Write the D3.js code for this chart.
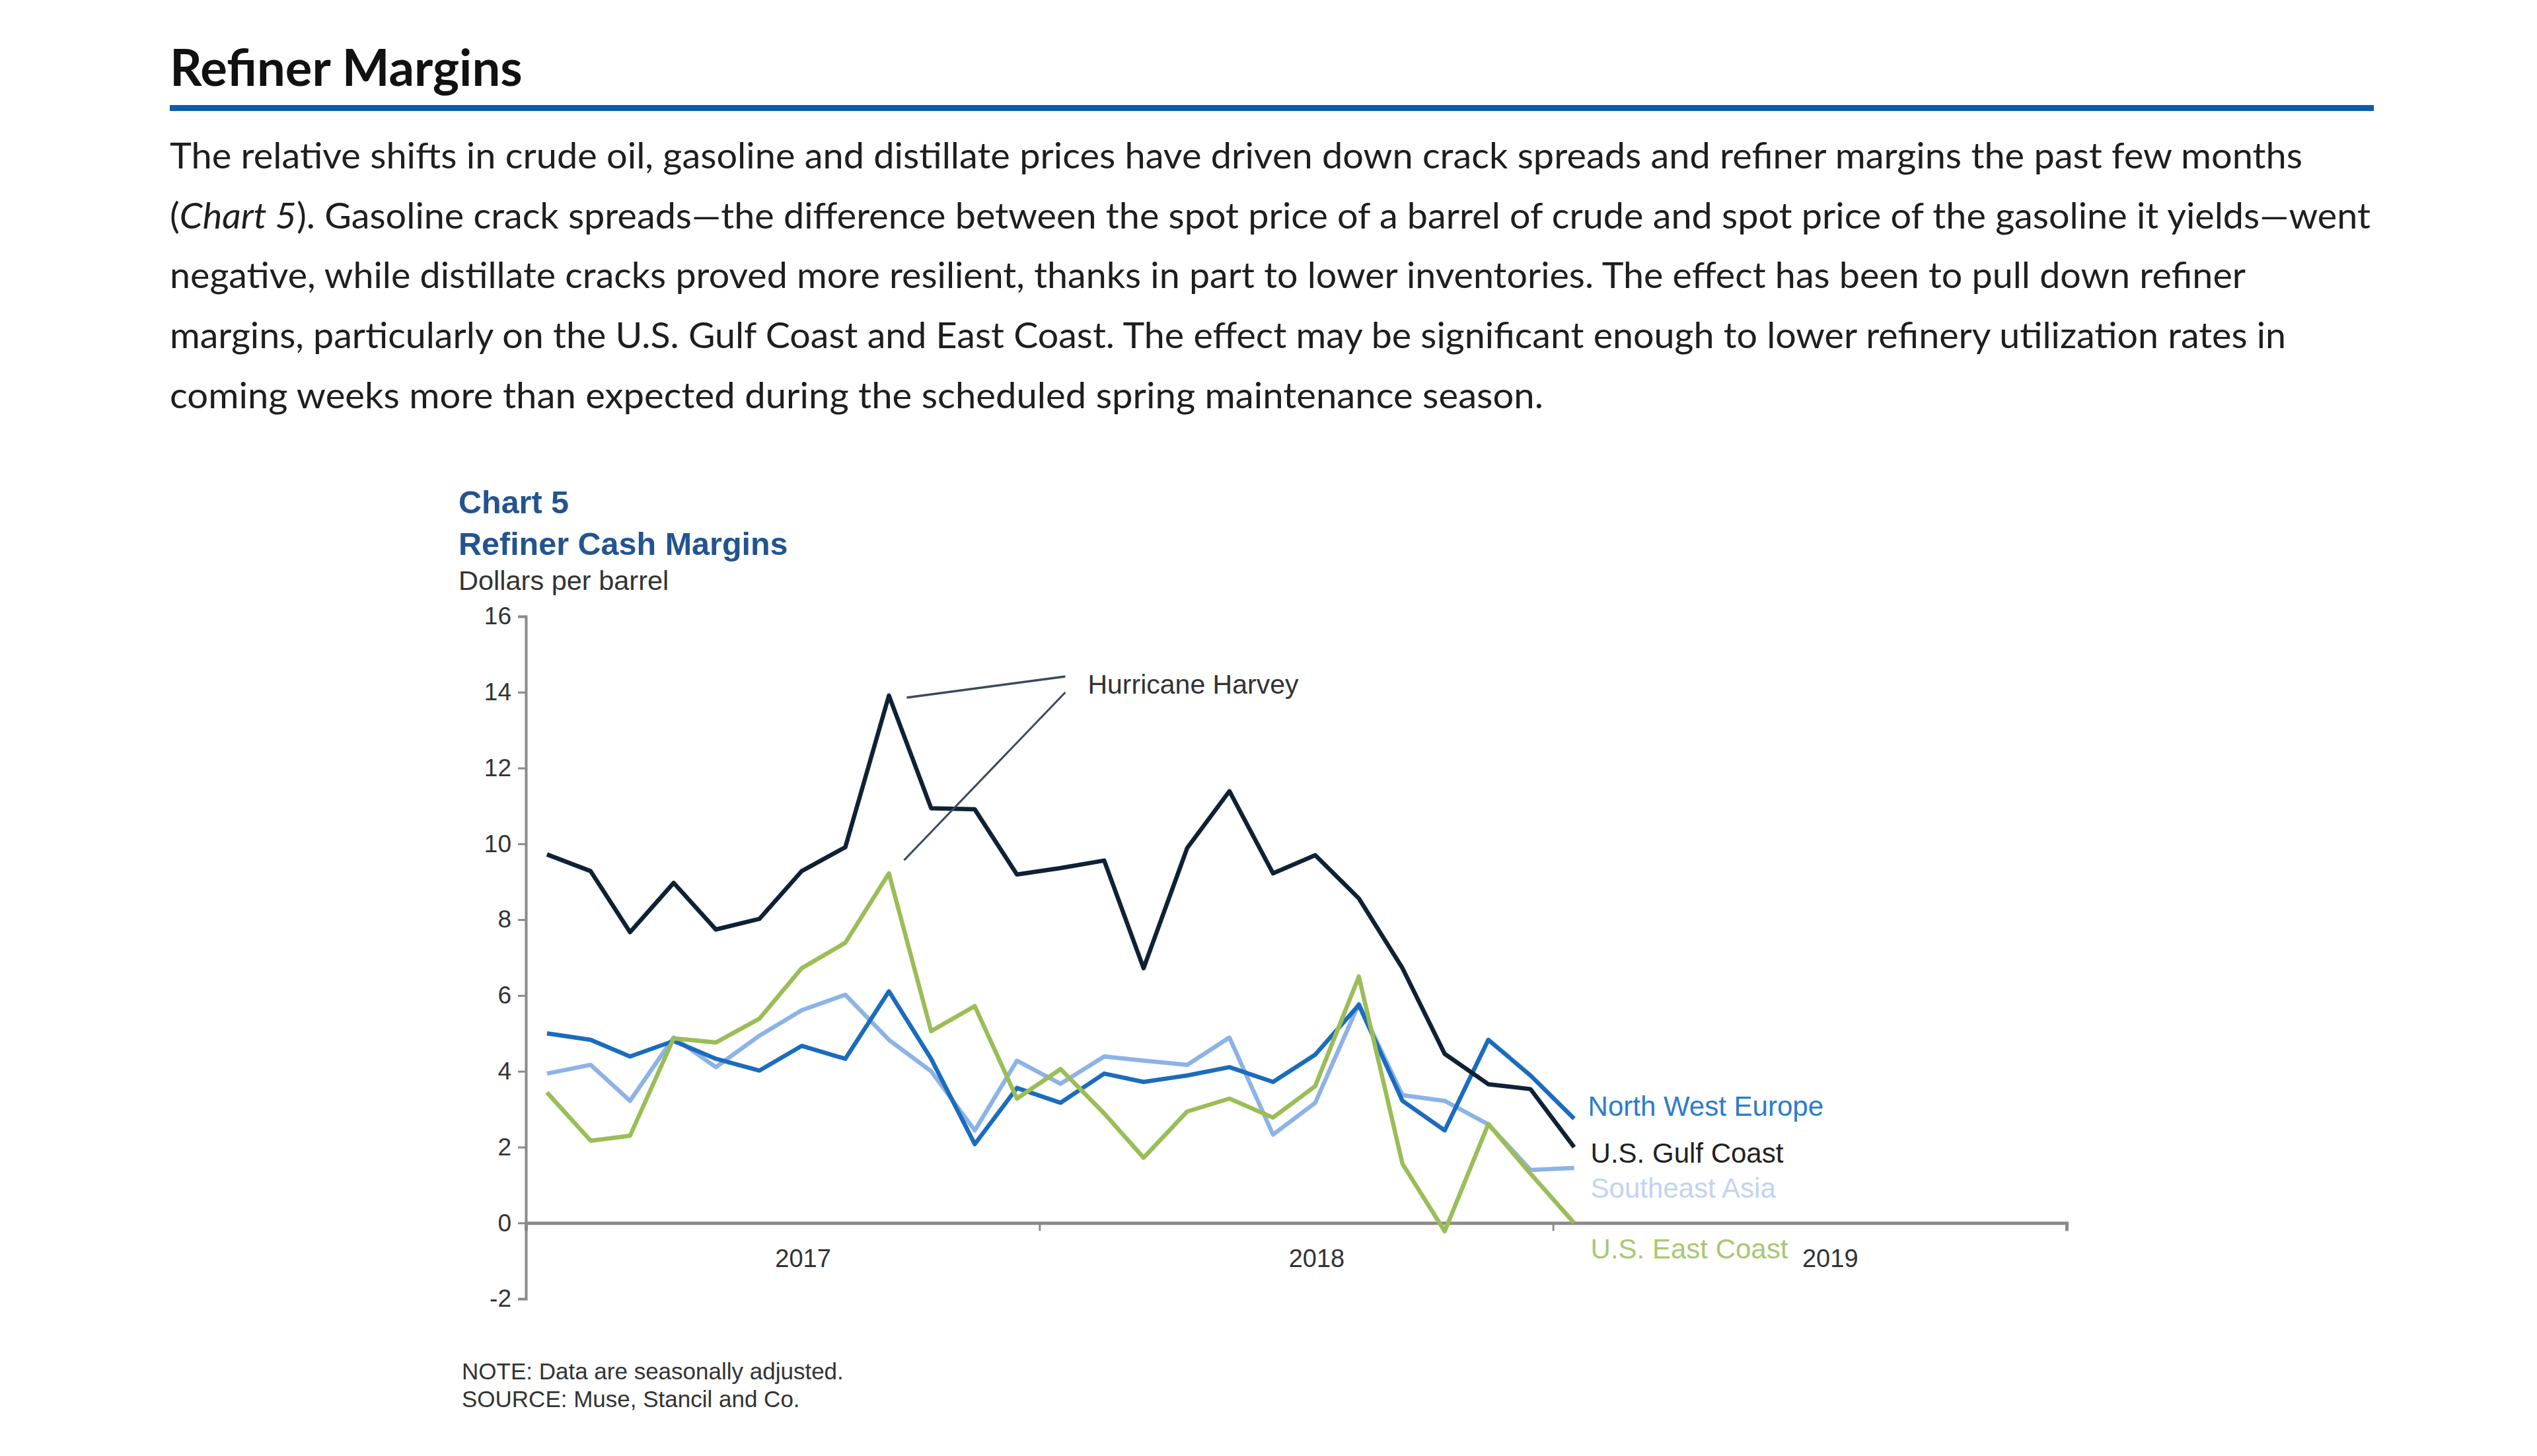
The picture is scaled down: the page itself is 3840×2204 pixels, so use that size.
<!DOCTYPE html>
<html>
<head>
<meta charset="utf-8">
<script src="https://cdn.jsdelivr.net/npm/d3@7"></script>
<style>
  html, body { margin: 0; padding: 0; background: #ffffff; }
  svg { display: block; }
</style>
</head>
<body>
<script>
// ---------- DATA ----------
const months = ["2017-01","2017-02","2017-03","2017-04","2017-05","2017-06","2017-07","2017-08","2017-09","2017-10","2017-11","2017-12",
                "2018-01","2018-02","2018-03","2018-04","2018-05","2018-06","2018-07","2018-08","2018-09","2018-10","2018-11","2018-12",
                "2019-01"];
const northWestEurope = [5.0,4.83,4.39,4.8,4.33,4.02,4.67,4.33,6.11,4.33,2.08,3.56,3.17,3.94,3.72,3.89,4.11,3.72,4.44,5.75,3.22,2.44,4.83,3.89,2.75];
const usGulfCoast     = [9.72,9.28,7.67,8.97,7.74,8.02,9.28,9.91,13.91,10.94,10.91,9.19,9.36,9.56,6.72,9.89,11.39,9.22,9.70,8.56,6.72,4.46,3.66,3.53,2.0];
const southeastAsia   = [3.94,4.17,3.22,4.89,4.11,4.94,5.61,6.02,4.83,4.0,2.44,4.28,3.67,4.39,4.28,4.17,4.89,2.33,3.17,5.78,3.37,3.22,2.6,1.4,1.45];
const usEastCoast     = [3.44,2.17,2.3,4.87,4.76,5.39,6.72,7.39,9.22,5.06,5.72,3.28,4.06,2.89,1.72,2.94,3.28,2.78,3.61,6.5,1.56,-0.22,2.61,1.3,0.0];
const seriesNames  = ["North West Europe","U.S. Gulf Coast","Southeast Asia","U.S. East Coast"];
const yTicks = [-2,0,2,4,6,8,10,12,14,16];
const yearTicks = ["2017","2018","2019"];
const annotationText = "Hurricane Harvey";
const annotationMonth = "2017-09";

const pageTitle = "Refiner Margins";
const paragraph = [
  [{t:"The relative shifts in crude oil, gasoline and distillate prices have driven down crack spreads and refiner margins the past few months"}],
  [{t:"("},{t:"Chart 5",i:true},{t:"). Gasoline crack spreads\u2014the difference between the spot price of a barrel of crude and spot price of the gasoline it yields\u2014went"}],
  [{t:"negative, while distillate cracks proved more resilient, thanks in part to lower inventories. The effect has been to pull down refiner"}],
  [{t:"margins, particularly on the U.S. Gulf Coast and East Coast. The effect may be significant enough to lower refinery utilization rates in"}],
  [{t:"coming weeks more than expected during the scheduled spring maintenance season."}]
];
const paragraphWidths = [3228, 3331, 3142, 3203, 2079];
const chartNumber = "Chart 5";
const chartTitle = "Refiner Cash Margins";
const unitsLabel = "Dollars per barrel";
const notes = ["NOTE: Data are seasonally adjusted.", "SOURCE: Muse, Stancil and Co."];

// ---------- SETUP ----------
const W = 3840, H = 2204;
const svg = d3.select("body").append("svg").attr("width", W).attr("height", H);
svg.append("rect").attr("width", W).attr("height", H).attr("fill", "#ffffff");

const textFont = "Lato, 'Open Sans', sans-serif";
const chartFont = "'Liberation Sans', Arial, sans-serif";

// header
svg.append("text").attr("x", 257).attr("y", 130)
  .attr("font-family", textFont).attr("font-weight", 700).attr("font-size", 76)
  .attr("fill", "#111").text(pageTitle);
svg.append("rect").attr("x", 257).attr("y", 159).attr("width", 3336).attr("height", 9).attr("fill", "#0b5cad");

paragraph.forEach((line, k) => {
  const t = svg.append("text").attr("x", 257).attr("y", 255 + k * 90.7)
    .attr("font-family", textFont).attr("font-size", 54).attr("fill", "#1e1e1e")
    .attr("textLength", paragraphWidths[k]).attr("lengthAdjust", "spacingAndGlyphs");
  line.forEach(seg => {
    t.append("tspan").attr("font-style", seg.i ? "italic" : null).text(seg.t);
  });
});

// chart titles
svg.append("text").attr("x", 694).attr("y", 777).attr("font-family", chartFont).attr("font-weight", 700)
  .attr("font-size", 48.5).attr("fill", "#23548f").text(chartNumber);
svg.append("text").attr("x", 694).attr("y", 840).attr("font-family", chartFont).attr("font-weight", 700)
  .attr("font-size", 48.5).attr("fill", "#23548f").text(chartTitle);
svg.append("text").attr("x", 694).attr("y", 893).attr("font-family", chartFont)
  .attr("font-size", 41.5).attr("fill", "#333").text(unitsLabel);

// ---------- SCALES ----------
const parseMonth = d3.timeParse("%Y-%m");
const x = d3.scaleTime()
  .domain([new Date(2017, 0, 1), new Date(2020, 0, 1)])
  .range([796, 3128]);
const y = d3.scaleLinear().domain([-2, 16]).range([1966, 933]);
const midMonth = m => { const d = parseMonth(m); return new Date(d.getFullYear(), d.getMonth(), 16); };

// ---------- AXES ----------
const axisColor = "#8a8a8a";
const yAxis = d3.axisLeft(y).tickValues(yTicks).tickSize(12).tickPadding(10).tickFormat(d => String(d));
const gy = svg.append("g").attr("transform", `translate(${x.range()[0]},0)`).call(yAxis);
gy.select(".domain").attr("stroke", axisColor).attr("stroke-width", 4);
gy.selectAll(".tick line").attr("stroke", axisColor).attr("stroke-width", 3);
gy.selectAll(".tick text").attr("font-family", chartFont).attr("font-size", 37).attr("fill", "#333");

const yearStarts = yearTicks.map(s => new Date(+s, 0, 1)).concat([new Date(2020, 0, 1)]);
const xAxis = d3.axisBottom(x).tickValues(yearStarts).tickSize(12).tickFormat("");
const gx = svg.append("g").attr("transform", `translate(0,${y(0)})`).call(xAxis);
gx.select(".domain").attr("stroke", axisColor).attr("stroke-width", 5);
gx.selectAll(".tick line").attr("stroke", axisColor).attr("stroke-width", 3);

svg.append("g").selectAll("text").data(yearTicks).join("text")
  .attr("x", d => x(new Date(+d, 6, 2)) + 32)
  .attr("y", y(0) + 67)
  .attr("text-anchor", "middle")
  .attr("font-family", chartFont).attr("font-size", 38).attr("fill", "#333")
  .text(d => d);

// ---------- LINES ----------
const series = [
  {name: seriesNames[2], values: southeastAsia,   color: "#8db3e6", label: "#c2d3f1"},
  {name: seriesNames[0], values: northWestEurope, color: "#1b6cbc", label: "#2b7ccc"},
  {name: seriesNames[3], values: usEastCoast,     color: "#9bbd57", label: "#a9c772"},
  {name: seriesNames[1], values: usGulfCoast,     color: "#0e2135", label: "#222222"}
];
const line = d3.line().x((d, i) => x(midMonth(months[i]))).y(d => y(d));
svg.append("g").selectAll("path").data(series).join("path")
  .attr("d", d => line(d.values))
  .attr("fill", "none")
  .attr("stroke", d => d.color)
  .attr("stroke-width", 6.5)
  .attr("stroke-linejoin", "round")
  .attr("stroke-linecap", "butt");

// series labels (stacked to the right of last point)
const lastX = x(midMonth(months[months.length - 1]));
const labelRows = {"North West Europe": 1689, "U.S. Gulf Coast": 1760, "Southeast Asia": 1813, "U.S. East Coast": 1905};
const labelDx = {"North West Europe": 21, "U.S. Gulf Coast": 25, "Southeast Asia": 25, "U.S. East Coast": 25};
svg.append("g").selectAll("text").data(series).join("text")
  .attr("x", d => lastX + labelDx[d.name])
  .attr("y", d => labelRows[d.name])
  .attr("font-family", chartFont).attr("font-size", 42)
  .attr("fill", d => d.label)
  .text(d => d.name);

// ---------- ANNOTATION ----------
const ai = months.indexOf(annotationMonth);
const ax = x(midMonth(annotationMonth));
const textX = ax + 301, textY = y(14) + 2;
const ann = svg.append("g");
ann.append("line")
  .attr("x1", ax + 27).attr("y1", y(usGulfCoast[ai]) + 3)
  .attr("x2", textX - 34).attr("y2", y(usGulfCoast[ai]) - 29)
  .attr("stroke", "#3b4b5e").attr("stroke-width", 3.5);
ann.append("line")
  .attr("x1", ax + 23).attr("y1", y(usEastCoast[ai]) - 20)
  .attr("x2", textX - 34).attr("y2", y(usGulfCoast[ai]) - 5)
  .attr("stroke", "#3b4b5e").attr("stroke-width", 3);
ann.append("text").attr("x", textX).attr("y", textY)
  .attr("font-family", chartFont).attr("font-size", 41).attr("fill", "#333")
  .text(annotationText);

// ---------- NOTES ----------
svg.append("g").selectAll("text").data(notes).join("text")
  .attr("x", 699).attr("y", (d, i) => 2088 + i * 42)
  .attr("font-family", chartFont).attr("font-size", 35).attr("fill", "#333")
  .text(d => d);
</script>
</body>
</html>
